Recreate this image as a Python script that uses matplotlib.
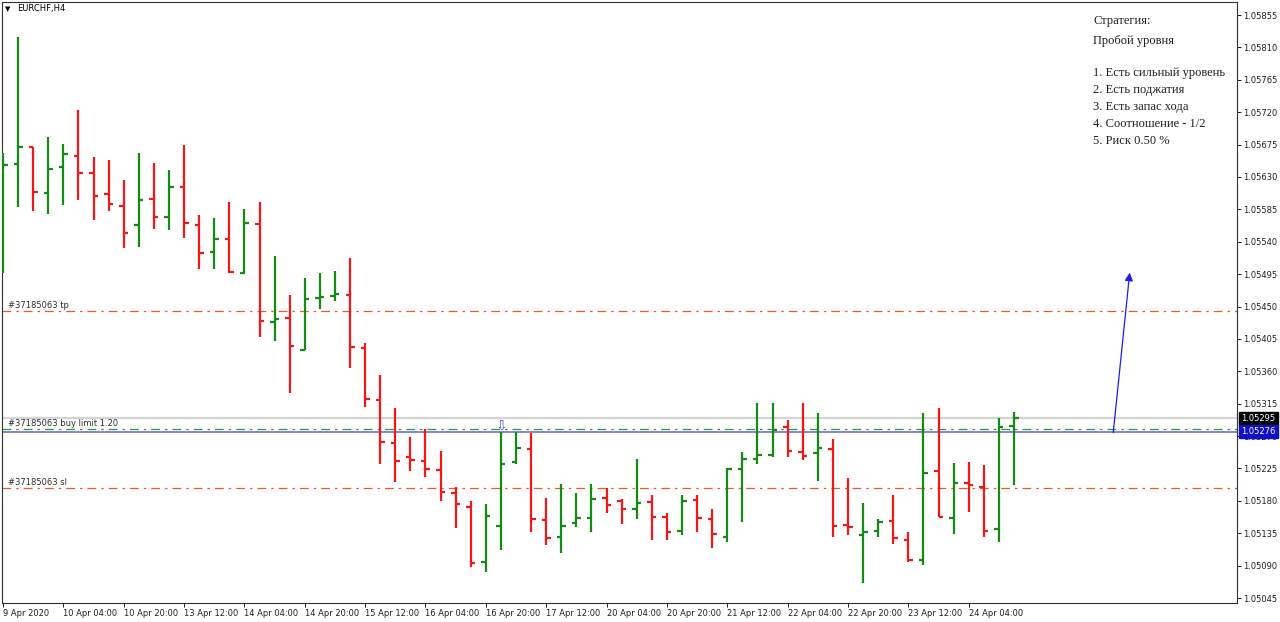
import numpy as np
import matplotlib.pyplot as plt
from matplotlib.transforms import blended_transform_factory

# EURCHF H4 бары (open, high, low, close)
opens = [1.05560, 1.05648, 1.05672, 1.05608, 1.05644, 1.05659, 1.05635, 1.05606, 1.05590, 1.05563,
         1.05599, 1.05574, 1.05616, 1.05563, 1.05526, 1.05544, 1.05497, 1.05565, 1.05428, 1.05434,
         1.05390, 1.05462, 1.05465, 1.05466, 1.05392, 1.05320, 1.05260, 1.05241, 1.05235, 1.05223,
         1.05191, 1.05171, 1.05095, 1.05145, 1.05234, 1.05252, 1.05153, 1.05130, 1.05149, 1.05156,
         1.05184, 1.05180, 1.05169, 1.05178, 1.05158, 1.05138, 1.05181, 1.05155, 1.05130, 1.05224,
         1.05238, 1.05244, 1.05283, 1.05248, 1.05246, 1.05252, 1.05146, 1.05132, 1.05138, 1.05152,
         1.05126, 1.05098, 1.05221, 1.05156, 1.05205, 1.05199, 1.05141, 1.05284]
highs = [1.05663, 1.05824, 1.05672, 1.05685, 1.05676, 1.05723, 1.05658, 1.05654, 1.05626, 1.05663,
         1.05649, 1.05640, 1.05674, 1.05577, 1.05573, 1.05595, 1.05586, 1.05595, 1.05520, 1.05466,
         1.05490, 1.05497, 1.05499, 1.05517, 1.05399, 1.05355, 1.05309, 1.05269, 1.05280, 1.05249,
         1.05199, 1.05180, 1.05176, 1.05276, 1.05276, 1.05274, 1.05184, 1.05203, 1.05191, 1.05203,
         1.05198, 1.05183, 1.05238, 1.05188, 1.05163, 1.05188, 1.05188, 1.05169, 1.05226, 1.05248,
         1.05316, 1.05316, 1.05292, 1.05316, 1.05302, 1.05266, 1.05212, 1.05177, 1.05155, 1.05188,
         1.05137, 1.05302, 1.05309, 1.05233, 1.05234, 1.05230, 1.05295, 1.05303]
lows = [1.05497, 1.05588, 1.05583, 1.05579, 1.05591, 1.05598, 1.05570, 1.05583, 1.05531, 1.05533,
        1.05558, 1.05556, 1.05545, 1.05502, 1.05502, 1.05497, 1.05495, 1.05408, 1.05402, 1.05330,
        1.05390, 1.05447, 1.05458, 1.05365, 1.05310, 1.05231, 1.05206, 1.05221, 1.05213, 1.05180,
        1.05142, 1.05088, 1.05081, 1.05112, 1.05231, 1.05137, 1.05119, 1.05107, 1.05144, 1.05137,
        1.05163, 1.05148, 1.05155, 1.05126, 1.05126, 1.05132, 1.05137, 1.05114, 1.05123, 1.05151,
        1.05231, 1.05241, 1.05241, 1.05237, 1.05208, 1.05130, 1.05132, 1.05066, 1.05130, 1.05120,
        1.05095, 1.05091, 1.05158, 1.05134, 1.05164, 1.05130, 1.05123, 1.05202]
closes = [1.05647, 1.05672, 1.05609, 1.05641, 1.05662, 1.05635, 1.05604, 1.05592, 1.05552, 1.05598,
          1.05574, 1.05616, 1.05566, 1.05524, 1.05544, 1.05498, 1.05566, 1.05430, 1.05433, 1.05395,
          1.05460, 1.05463, 1.05467, 1.05394, 1.05321, 1.05262, 1.05235, 1.05237, 1.05224, 1.05192,
          1.05176, 1.05094, 1.05159, 1.05231, 1.05253, 1.05155, 1.05128, 1.05145, 1.05156, 1.05183,
          1.05174, 1.05169, 1.05177, 1.05158, 1.05137, 1.05180, 1.05156, 1.05134, 1.05224, 1.05238,
          1.05244, 1.05278, 1.05249, 1.05242, 1.05253, 1.05145, 1.05144, 1.05137, 1.05151, 1.05128,
          1.05098, 1.05219, 1.05158, 1.05205, 1.05202, 1.05138, 1.05283, 1.05295]

date_labels = ['9 Apr 2020', '10 Apr 04:00', '10 Apr 20:00', '13 Apr 12:00', '14 Apr 04:00',
               '14 Apr 20:00', '15 Apr 12:00', '16 Apr 04:00', '16 Apr 20:00', '17 Apr 12:00',
               '20 Apr 04:00', '20 Apr 20:00', '21 Apr 12:00', '22 Apr 04:00', '22 Apr 20:00',
               '23 Apr 12:00', '24 Apr 04:00']
price_ticks = [1.05045, 1.05090, 1.05135, 1.05180, 1.05225, 1.05270, 1.05315, 1.05360, 1.05405,
               1.05450, 1.05495, 1.05540, 1.05585, 1.05630, 1.05675, 1.05720, 1.05765, 1.05810, 1.05855]

tp_price = 1.05444
sl_price = 1.05198
limit_price = 1.05280
bid_price = 1.05276
ask_price = 1.05295

strategy_lines = [('Стратегия:', 21), ('Пробой уровня', 41),
                  ('1. Есть сильный уровень', 73), ('2. Есть поджатия', 90),
                  ('3. Есть запас хода', 107), ('4. Соотношение - 1/2', 124),
                  ('5. Риск 0.50 %', 141)]

W, H = 1280, 622
fig = plt.figure(figsize=(W / 100, H / 100), dpi=100)
ax = fig.add_axes([2 / W, 19 / H, 1235 / W, 601 / H])

x = np.arange(len(opens))
o = np.array(opens)
c = np.array(closes)
green, red = '#158a15', '#f01818'
cols = [green if cc >= oo else red for oo, cc in zip(o, c)]

ax.vlines(x, lows, highs, colors=cols, lw=1.6, zorder=3)
ax.hlines(o, x - 0.3, x, colors=cols, lw=1.6, zorder=3)
ax.hlines(c, x, x + 0.3, colors=cols, lw=1.6, zorder=3)

# уровни ордера
dashdot = (0, (7, 4, 2, 4))
ax.axhline(ask_price, color='#d4d4d4', lw=1.6, zorder=1)
ax.axhline(tp_price, color='#ee5a24', lw=0.9, ls=dashdot, zorder=2)
ax.axhline(sl_price, color='#ee5a24', lw=0.9, ls=dashdot, zorder=2)
ax.axhline(limit_price, color='#2e9a2e', lw=0.9, ls=dashdot, zorder=2)
ax.axhline(bid_price, color='#6464c0', lw=1.1, zorder=2)

bt = blended_transform_factory(ax.transAxes, ax.transData)
for lbl, p in [('#37185063 tp', tp_price), ('#37185063 sl', sl_price),
               ('#37185063 buy limit 1.20', limit_price)]:
    ax.text(0.005, p + 0.00001, lbl, transform=bt, fontsize=6, color='#303030',
            va='bottom', ha='left')

# метка отложенного ордера
ax.text(33, bid_price - 0.00001, '\u21e9', ha='center', va='bottom', fontsize=10,
        family='DejaVu Sans', color='#4a4ae0', zorder=4)

# стрелка
ax.annotate('', xy=(74.69, 1.05501), xytext=(73.56, 1.05271),
            arrowprops=dict(arrowstyle='-|>', color='#1c1cf0', lw=0.9, mutation_scale=12))

ax.set_xlim(-0.066, 81.78)
ax.set_ylim(1.050381, 1.058731)

ax.set_xticks(range(0, 68, 4))
ax.set_xticklabels(date_labels, ha='left', fontsize=6)
ax.yaxis.tick_right()
ax.set_yticks(price_ticks)
ax.set_yticklabels(['%.5f' % p for p in price_ticks], fontsize=6)
ax.tick_params(axis='both', length=3, width=0.7, colors='#202020', pad=1.5)
for s in ax.spines.values():
    s.set_color('#303030')
    s.set_linewidth(0.8)

# плашки цены справа
ax.text(1.0035, ask_price, '1.05295', transform=bt, va='center', ha='left', fontsize=6,
        color='white', zorder=5,
        bbox=dict(boxstyle='square,pad=0.25', fc='black', ec='black'))
ax.text(1.0035, bid_price, '1.05276', transform=bt, va='center', ha='left', fontsize=6,
        color='white', zorder=5,
        bbox=dict(boxstyle='square,pad=0.25', fc='#1010c8', ec='#1010c8'))

fig.text(5 / W, 1 - 9 / H, '\u25bc', fontsize=5, va='center', ha='left', color='black')
fig.text(17 / W, 1 - 9 / H, 'EURCHF,H4', fontsize=6, va='center', ha='left', color='black')

for txt, ypx in strategy_lines:
    fig.text(1093 / W, 1 - ypx / H, txt, fontsize=9, family='Liberation Serif',
             va='center', ha='left', color='#202020')

fig.savefig('out.png', dpi=100, facecolor='white')
